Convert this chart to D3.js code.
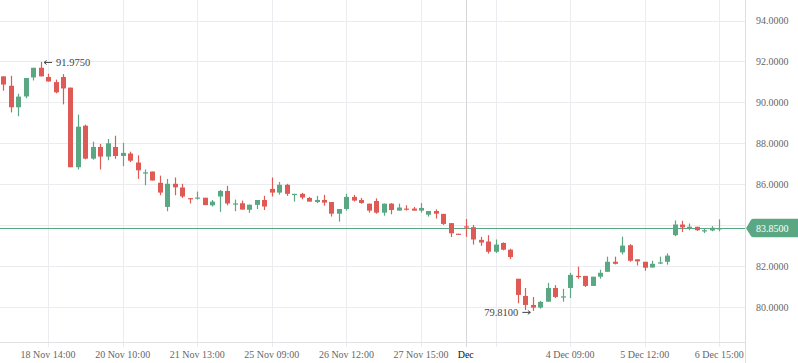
<!DOCTYPE html>
<html>
<head>
<meta charset="utf-8">
<script src="https://cdnjs.cloudflare.com/ajax/libs/d3/7.8.5/d3.min.js"></script>
<style>
  html, body { margin: 0; padding: 0; background: #fff; }
  svg { display: block; }
</style>
</head>
<body>
<svg id="chart" width="798" height="363"></svg>
<script>
// ---- data ----
const opens = [
  91.27, 90.81, 89.76, 90.29, 91.22, 91.69, 91.24, 90.99, 91.24, 90.72,
  86.83, 88.86, 87.25, 87.82, 87.35, 87.82, 87.38, 87.50, 87.06, 86.56,
  86.62, 86.07, 84.89, 86.02, 85.84, 85.32, 85.30, 85.34, 84.97, 85.40,
  85.67, 85.03, 85.07, 84.75, 84.99, 85.23, 85.77, 85.59, 85.97, 85.51,
  85.53, 85.33, 85.13, 85.23, 85.13, 84.56, 84.79, 85.38, 85.23, 85.05,
  85.18, 84.61, 85.05, 84.71, 84.81, 84.81, 84.71, 84.51, 84.69, 84.55,
  84.10, 83.58, 83.94, 83.90, 83.28, 83.20, 82.70, 83.13, 82.80, 81.38,
  80.54, 80.10, 79.97, 80.26, 80.93, 80.49, 80.93, 81.52, 81.52, 81.03,
  81.48, 81.72, 82.21, 82.67, 83.02, 82.33, 82.21, 81.93, 82.15, 82.21,
  83.51, 84.03, 83.89, 83.92, 83.72, 83.74, 83.82
];
const highs = [
  91.27, 91.30, 90.42, 91.19, 91.69, 91.975, 91.40, 91.11, 91.38, 90.72,
  89.40, 88.91, 88.08, 87.97, 88.21, 88.37, 88.02, 87.59, 87.41, 86.72,
  86.62, 86.42, 86.26, 86.33, 86.02, 85.33, 85.64, 85.34, 85.23, 85.72,
  85.92, 85.25, 85.20, 85.00, 85.23, 85.43, 86.33, 86.11, 86.02, 85.53,
  85.58, 85.38, 85.43, 85.48, 85.13, 84.79, 85.53, 85.48, 85.33, 85.05,
  85.31, 85.05, 85.08, 85.05, 84.97, 84.89, 85.08, 84.69, 84.77, 84.55,
  84.10, 83.58, 84.30, 84.01, 83.43, 83.51, 83.30, 83.16, 82.85, 81.38,
  80.93, 80.49, 80.30, 81.18, 81.07, 80.89, 81.67, 81.97, 81.52, 81.48,
  81.82, 82.46, 82.46, 83.44, 83.07, 82.33, 82.21, 82.26, 82.46, 82.62,
  84.23, 84.21, 84.08, 83.92, 83.82, 83.95, 84.28
];
const lows = [
  90.57, 89.51, 89.32, 90.20, 91.07, 91.27, 91.02, 90.44, 89.90, 86.83,
  86.72, 87.22, 87.20, 86.72, 87.17, 87.24, 86.88, 87.08, 86.26, 85.95,
  86.18, 85.46, 84.68, 85.46, 85.33, 85.06, 85.25, 84.98, 84.91, 84.65,
  84.97, 84.68, 84.76, 84.60, 84.79, 84.74, 85.40, 85.49, 85.43, 85.15,
  85.26, 85.15, 85.07, 84.95, 84.42, 84.17, 84.71, 85.15, 85.05, 84.61,
  84.56, 84.46, 84.53, 84.71, 84.71, 84.71, 84.61, 84.42, 84.32, 84.01,
  83.42, 83.56, 83.43, 83.05, 82.99, 82.61, 82.64, 82.77, 82.34, 80.18,
  79.85, 79.81, 79.92, 80.26, 80.44, 80.26, 80.44, 81.38, 80.98, 81.03,
  81.38, 81.72, 82.08, 82.57, 82.21, 82.03, 81.77, 81.93, 82.10, 82.07,
  83.46, 83.66, 83.75, 83.72, 83.61, 83.70, 83.70
];
const closes = [
  90.87, 89.76, 90.28, 91.19, 91.69, 91.27, 91.02, 90.49, 90.68, 86.83,
  88.81, 87.25, 87.82, 87.35, 88.00, 87.38, 87.53, 87.15, 86.68, 86.58,
  86.18, 85.59, 86.02, 85.85, 85.40, 85.27, 85.35, 84.98, 85.15, 85.67,
  85.06, 85.06, 84.76, 85.00, 85.23, 84.91, 85.59, 85.97, 85.53, 85.53,
  85.35, 85.15, 85.23, 85.10, 84.56, 84.79, 85.38, 85.20, 85.08, 84.71,
  84.61, 85.05, 84.74, 84.86, 84.78, 84.71, 84.84, 84.69, 84.56, 84.06,
  83.60, 83.56, 83.92, 83.30, 83.15, 82.70, 83.05, 82.80, 82.44, 80.59,
  80.10, 79.97, 80.25, 80.93, 80.49, 80.52, 81.57, 81.49, 81.03, 81.48,
  81.67, 82.21, 82.11, 83.00, 82.26, 82.23, 81.92, 82.11, 82.18, 82.51,
  84.03, 83.89, 83.92, 83.75, 83.75, 83.87, 83.85
];
const xTickIndex = [6, 16, 26, 36, 46, 56, 62, 66, 76, 86, 96];
const xTickLabels = ["18 Nov 14:00", "20 Nov 10:00", "21 Nov 13:00", "25 Nov 09:00",
  "26 Nov 12:00", "27 Nov 15:00", "Dec", "", "4 Dec 09:00", "5 Dec 12:00", "6 Dec 15:00"];
const monthTick = "Dec";
const yTicks = [80, 82, 84, 86, 88, 90, 92, 94];

// ---- styles ----
const UP = "#5aa783";
const DOWN = "#e05a55";
const GRID = "#eaecef";
const FONT = "'Liberation Serif', 'Times New Roman', Times, 'DejaVu Serif', serif";
const FS = 10;

const W = 798, H = 363;
const plotRight = 745, plotBottom = 342;

const svg = d3.select("#chart").attr("font-family", FONT);
const n = closes.length;

const x = d3.scaleLinear().domain([0, n - 1]).range([3.3, 719.3]);
const y = d3.scaleLinear().domain([80, 94]).range([307, 20.5]);

// horizontal grid
svg.append("g").selectAll("line").data(yTicks).join("line")
  .attr("x1", 0).attr("x2", plotRight)
  .attr("y1", d => Math.round(y(d)) + 0.5).attr("y2", d => Math.round(y(d)) + 0.5)
  .attr("stroke", GRID).attr("stroke-width", 1);

// vertical grid
svg.append("g").selectAll("line").data(xTickIndex).join("line")
  .attr("x1", d => Math.round(x(d)) + 0.5).attr("x2", d => Math.round(x(d)) + 0.5)
  .attr("y1", 0).attr("y2", plotBottom + 5)
  .attr("stroke", (d, i) => xTickLabels[i] === monthTick ? "#d4d6d9" : GRID)
  .attr("stroke-width", 1);

// axes lines
svg.append("line").attr("x1", 0).attr("x2", plotRight)
  .attr("y1", plotBottom + 0.5).attr("y2", plotBottom + 0.5)
  .attr("stroke", "#e0e2e5");
svg.append("line").attr("x1", plotRight + 0.5).attr("x2", plotRight + 0.5)
  .attr("y1", 0).attr("y2", H)
  .attr("stroke", "#dcdee1");

// x labels
svg.append("g").selectAll("text").data(xTickIndex).join("text")
  .attr("x", d => x(d)).attr("y", 358)
  .attr("text-anchor", "middle")
  .attr("font-size", FS)
  .attr("fill", (d, i) => xTickLabels[i] === monthTick ? "#111" : "#666")
  .text((d, i) => xTickLabels[i]);

// y labels (the one under the last-price badge is hidden by it)
const last = closes[n - 1];
svg.append("g").selectAll("text").data(yTicks.filter(d => Math.abs(y(d) - y(last)) > 12)).join("text")
  .attr("x", 756).attr("y", d => y(d) + 3.5)
  .attr("font-size", FS)
  .attr("fill", "#666")
  .text(d => d.toFixed(4));

// last price line
const ly = Math.round(y(last)) + 0.5;
svg.append("line").attr("x1", 0).attr("x2", plotRight)
  .attr("y1", ly).attr("y2", ly)
  .attr("stroke", UP).attr("stroke-width", 1);

// candles
const idx = d3.range(n);
const bw = 5;
const g = svg.append("g");
g.selectAll("line.wick").data(idx).join("line")
  .attr("class", "wick")
  .attr("x1", i => Math.round(x(i)) + 0.5).attr("x2", i => Math.round(x(i)) + 0.5)
  .attr("y1", i => y(highs[i])).attr("y2", i => y(lows[i]))
  .attr("stroke", i => closes[i] >= opens[i] ? UP : DOWN)
  .attr("stroke-width", 1.2);
g.selectAll("rect.body").data(idx).join("rect")
  .attr("class", "body")
  .attr("x", i => Math.round(x(i)) + 0.5 - bw / 2)
  .attr("width", bw)
  .attr("y", i => y(Math.max(opens[i], closes[i])))
  .attr("height", i => Math.max(1.2, Math.abs(y(opens[i]) - y(closes[i]))))
  .attr("fill", i => closes[i] >= opens[i] ? UP : DOWN);

// high / low annotations
const hi = d3.maxIndex(highs);
const lo = d3.minIndex(lows);
const hx = x(hi), hy = y(highs[hi]);
const ann = svg.append("g").attr("stroke", "#444").attr("fill", "none");
ann.append("line").attr("x1", hx + 3.5).attr("x2", hx + 11.5).attr("y1", hy + 0.5).attr("y2", hy + 0.5);
ann.append("path").attr("d", `M${hx + 6},${hy - 1.5} L${hx + 3.5},${hy + 0.5} L${hx + 6},${hy + 2.5}`);
svg.append("text").attr("x", hx + 15.5).attr("y", hy + 4)
  .attr("font-size", FS + 0.5).attr("fill", "#444").text(highs[hi].toFixed(4));

const lx = x(lo), lyy = y(lows[lo]) + 1.5;
ann.append("line").attr("x1", lx - 10.5).attr("x2", lx - 2.5).attr("y1", lyy).attr("y2", lyy);
ann.append("path").attr("d", `M${lx - 5},${lyy - 2} L${lx - 2.5},${lyy} L${lx - 5},${lyy + 2}`);
svg.append("text").attr("x", lx - 14.5).attr("y", lyy + 3.5)
  .attr("text-anchor", "end")
  .attr("font-size", FS + 0.5).attr("fill", "#444").text(lows[lo].toFixed(4));

// last price badge
const by = y(last);
svg.append("path")
  .attr("d", `M${plotRight + 1},${by} L${plotRight + 6},${by - 8.5} Q${plotRight + 7},${by - 9.5} ${plotRight + 8.5},${by - 9.5} L${W + 2},${by - 9.5} L${W + 2},${by + 9} L${plotRight + 8.5},${by + 9} Q${plotRight + 7},${by + 9} ${plotRight + 6},${by + 8} Z`)
  .attr("fill", UP);
svg.append("text").attr("x", 756).attr("y", by + 3.5)
  .attr("font-size", FS).attr("fill", "#fff").text(last.toFixed(4));
</script>
</body>
</html>
